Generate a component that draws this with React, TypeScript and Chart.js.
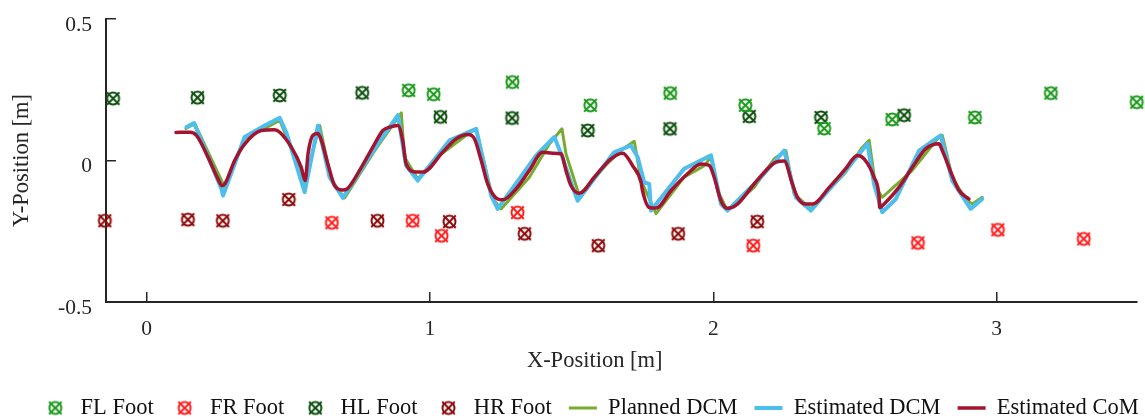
import React, { useEffect, useRef } from 'react';
import { Chart, registerables } from 'chart.js';

Chart.register(...registerables);

// ---------- data ----------
const flFootX = [0.925, 1.013, 1.291, 1.566, 1.848, 2.113, 2.391, 2.631, 2.923, 3.191, 3.494];
const flFootY = [0.248, 0.234, 0.277, 0.195, 0.238, 0.195, 0.113, 0.145, 0.152, 0.238, 0.206];

const frFootX = [0.654, 0.939, 1.041, 1.309, 2.141, 2.722, 3.004, 3.307];
const frFootY = [-0.22, -0.213, -0.266, -0.184, -0.301, -0.291, -0.245, -0.277];

const hlFootX = [-0.118, 0.18, 0.47, 0.761, 1.037, 1.29, 1.557, 1.847, 2.127, 2.38, 2.673];
const hlFootY = [0.219, 0.222, 0.23, 0.239, 0.154, 0.15, 0.106, 0.112, 0.156, 0.152, 0.16];

const hrFootX = [-0.147, 0.146, 0.269, 0.502, 0.815, 1.069, 1.334, 1.594, 1.876, 2.155];
const hrFootY = [-0.213, -0.209, -0.213, -0.138, -0.213, -0.216, -0.259, -0.301, -0.259, -0.216];

const plannedDcmX = [0.139, 0.17, 0.276, 0.346, 0.417, 0.47, 0.558, 0.611, 0.652, 0.699, 0.805, 0.899, 0.91, 0.957, 1.034, 1.128, 1.163, 1.222, 1.251, 1.351, 1.422, 1.466, 1.48, 1.527, 1.626, 1.674, 1.721, 1.745, 1.798, 1.897, 1.968, 1.992, 2.015, 2.05, 2.144, 2.215, 2.256, 2.285, 2.344, 2.467, 2.526, 2.55, 2.573, 2.596, 2.702, 2.796, 2.808, 2.843, 2.89, 2.914, 2.949];
const plannedDcmY = [0.113, 0.13, -0.095, 0.078, 0.113, 0.142, -0.077, 0.124, -0.071, -0.132, 0.035, 0.168, 0.012, -0.065, 0.018, 0.089, 0.112, -0.136, -0.171, -0.059, 0.059, 0.112, 0.024, -0.124, -0.011, 0.035, 0.068, -0.071, -0.188, -0.059, -0.018, 0.012, -0.106, -0.177, -0.095, 0.006, 0.035, -0.118, -0.171, -0.041, 0.047, 0.071, -0.095, -0.13, -0.035, 0.083, 0.089, -0.059, -0.136, -0.154, -0.13];

const estDcmX = [0.141, 0.168, 0.264, 0.27, 0.346, 0.417, 0.47, 0.493, 0.558, 0.605, 0.646, 0.693, 0.805, 0.887, 0.916, 0.957, 1.069, 1.163, 1.216, 1.239, 1.375, 1.439, 1.463, 1.504, 1.521, 1.65, 1.709, 1.733, 1.756, 1.774, 1.78, 1.897, 1.992, 2.027, 2.05, 2.168, 2.25, 2.291, 2.344, 2.467, 2.544, 2.567, 2.596, 2.644, 2.726, 2.802, 2.843, 2.908, 2.949];
const estDcmY = [0.118, 0.132, -0.1, -0.124, 0.083, 0.124, 0.151, 0.1, -0.112, 0.124, -0.059, -0.132, 0.043, 0.16, -0.018, -0.071, 0.071, 0.112, -0.124, -0.171, 0.018, 0.083, 0.024, -0.095, -0.142, 0.029, 0.053, 0.012, -0.077, -0.083, -0.177, -0.029, 0.018, -0.154, -0.177, -0.059, 0.035, -0.13, -0.177, -0.035, 0.059, -0.083, -0.183, -0.136, 0.035, 0.089, -0.071, -0.171, -0.136];

const estComX = [0.104, 0.153, 0.176, 0.217, 0.252, 0.266, 0.276, 0.311, 0.347, 0.405, 0.452, 0.47, 0.511, 0.546, 0.56, 0.57, 0.587, 0.605, 0.617, 0.64, 0.664, 0.693, 0.708, 0.758, 0.805, 0.834, 0.858, 0.887, 0.904, 0.916, 0.952, 0.975, 1.045, 1.093, 1.134, 1.157, 1.181, 1.204, 1.239, 1.257, 1.304, 1.351, 1.398, 1.433, 1.463, 1.48, 1.498, 1.527, 1.58, 1.639, 1.68, 1.715, 1.745, 1.75, 1.774, 1.798, 1.851, 1.909, 1.956, 1.986, 2.003, 2.027, 2.05, 2.085, 2.144, 2.203, 2.221, 2.25, 2.279, 2.297, 2.326, 2.35, 2.409, 2.467, 2.508, 2.532, 2.567, 2.585, 2.587, 2.608, 2.655, 2.714, 2.749, 2.796, 2.808, 2.843, 2.867, 2.902];
const estComY = [0.099, 0.1, 0.089, 0.012, -0.065, -0.089, -0.083, 0.0, 0.059, 0.106, 0.109, 0.1, 0.047, -0.024, -0.071, 0.024, 0.089, 0.095, 0.071, -0.012, -0.089, -0.104, -0.1, -0.024, 0.059, 0.106, 0.118, 0.124, 0.071, -0.012, -0.041, -0.041, 0.029, 0.077, 0.092, 0.077, 0.0, -0.083, -0.136, -0.139, -0.1, -0.035, 0.029, 0.026, 0.024, -0.035, -0.089, -0.116, -0.059, 0.006, 0.026, -0.018, -0.077, -0.106, -0.166, -0.168, -0.106, -0.047, -0.012, -0.018, -0.059, -0.142, -0.169, -0.154, -0.083, -0.018, -0.006, -0.002, -0.083, -0.13, -0.154, -0.154, -0.095, -0.029, 0.018, 0.006, -0.059, -0.13, -0.166, -0.148, -0.095, -0.006, 0.041, 0.059, 0.035, -0.053, -0.106, -0.136];

const xTicks = [0, 1, 2, 3];
const yTicks = [-0.5, 0, 0.5];

// ---------- style ----------
const FONT = '"Liberation Serif", "Times New Roman", serif';
const AXIS = '#262626';

const pts = (xs: number[], ys: number[]) => xs.map((x, i) => ({ x, y: ys[i] }));

function makeMarker(color: string): HTMLCanvasElement {
  const c = document.createElement('canvas');
  c.width = 17;
  c.height = 17;
  const g = c.getContext('2d')!;
  g.strokeStyle = color;
  g.lineWidth = 2;
  g.beginPath();
  g.arc(8.5, 8.5, 6, 0, Math.PI * 2);
  g.stroke();
  g.beginPath();
  g.moveTo(2.2, 2.2);
  g.lineTo(14.8, 14.8);
  g.moveTo(14.8, 2.2);
  g.lineTo(2.2, 14.8);
  g.stroke();
  return c;
}

const legendShift = {
  id: 'legendShift',
  afterLayout(chart: any) {
    const lg = chart.legend;
    if (!lg) return;
    lg.left += 21;
    lg.right += 21;
    lg.top += 9.25;
    lg.bottom += 9.25;
  },
};

const xTitle = {
  id: 'xTitle',
  afterDraw(chart: any) {
    const ctx = chart.ctx;
    const a = chart.chartArea;
    ctx.save();
    ctx.font = `22.5px ${FONT}`;
    ctx.fillStyle = AXIS;
    ctx.textAlign = 'center';
    ctx.textBaseline = 'middle';
    ctx.fillText('X-Position [m]', a.left + (a.right - a.left) * 0.474, a.bottom + 59.5);
    ctx.restore();
  },
};

export default function App() {
  const ref = useRef<HTMLCanvasElement>(null);

  useEffect(() => {
    const markerSet = (label: string, color: string, xs: number[], ys: number[]) => ({
      label,
      data: pts(xs, ys),
      showLine: false,
      pointStyle: makeMarker(color),
      pointRadius: 7,
      borderColor: color,
      backgroundColor: color,
      clip: false,
      order: 4,
    });
    const lineSet = (label: string, color: string, width: number, xs: number[], ys: number[], order: number, smooth: boolean) => ({
      label,
      data: pts(xs, ys),
      borderColor: color,
      backgroundColor: color,
      borderWidth: width,
      pointRadius: 0,
      pointStyle: 'line',
      borderJoinStyle: 'round',
      borderCapStyle: 'round',
      tension: smooth ? 0.4 : 0,
      cubicInterpolationMode: smooth ? 'monotone' : 'default',
      fill: false,
      order,
    });

    const chart = new Chart(ref.current!, {
      type: 'line',
      data: {
        datasets: [
          markerSet('FL Foot', '#1c9a1c', flFootX, flFootY),
          markerSet('FR Foot', '#ff1f1f', frFootX, frFootY),
          markerSet('HL Foot', '#0d4f0d', hlFootX, hlFootY),
          markerSet('HR Foot', '#8c0a0a', hrFootX, hrFootY),
          lineSet('Planned DCM', '#77ac30', 3, plannedDcmX, plannedDcmY, 3, false),
          lineSet('Estimated DCM', '#4dbeee', 4, estDcmX, estDcmY, 2, false),
          lineSet('Estimated CoM', '#a2142f', 3.5, estComX, estComY, 1, true),
        ] as any,
      },
      options: {
        responsive: false,
        animation: false,
        events: [],
        layout: { padding: { left: 0, right: 7, top: 19, bottom: 0 } },
        scales: {
          x: {
            type: 'linear',
            min: -0.143,
            max: 3.495,
            afterFit: (s: any) => {
              s.height = 68.5;
              s.paddingLeft = 0;
              s.paddingRight = 0;
            },
            afterBuildTicks: (s: any) => {
              s.ticks = xTicks.map((v) => ({ value: v }));
            },
            ticks: {
              padding: 24,
              color: AXIS,
              font: { family: FONT, size: 21.5 },
              maxRotation: 0,
              autoSkip: false,
              callback: (v: any) => String(v),
            },
            grid: { drawOnChartArea: false, drawTicks: true, tickLength: -10, color: AXIS, lineWidth: 1.5 },
            border: { display: true, color: AXIS, width: 2 },
            title: { display: false },
          },
          y: {
            type: 'linear',
            min: -0.5,
            max: 0.5,
            afterFit: (s: any) => {
              s.width = 106;
              s.paddingTop = 0;
              s.paddingBottom = 0;
            },
            afterBuildTicks: (s: any) => {
              s.ticks = yTicks.map((v) => ({ value: v }));
            },
            ticks: {
              padding: 24,
              labelOffset: 6,
              color: AXIS,
              font: { family: FONT, size: 21.5 },
              callback: (v: any) => String(v),
            },
            grid: { drawOnChartArea: false, drawTicks: true, tickLength: -10, color: AXIS, lineWidth: 1.5 },
            border: { display: true, color: AXIS, width: 2 },
            title: {
              display: true,
              text: 'Y-Position [m]',
              color: AXIS,
              font: { family: FONT, size: 22.5 },
              padding: { top: 8.5, bottom: 0 },
            },
          },
        },
        plugins: {
          legend: {
            position: 'bottom',
            labels: {
              usePointStyle: true,
              pointStyleWidth: 28,
              padding: 17,
              color: '#111',
              font: { family: FONT, size: 22.5 },
              sort: (a: any, b: any) => a.datasetIndex - b.datasetIndex,
            },
          },
          tooltip: { enabled: false },
        },
      } as any,
      plugins: [legendShift, xTitle] as any,
    });
    return () => chart.destroy();
  }, []);

  return (
    <div style={{ position: 'absolute', left: 0, top: 0, width: 1145, height: 420, background: '#fff' }}>
      <canvas ref={ref} width={1145} height={420} style={{ display: 'block' }} />
    </div>
  );
}
